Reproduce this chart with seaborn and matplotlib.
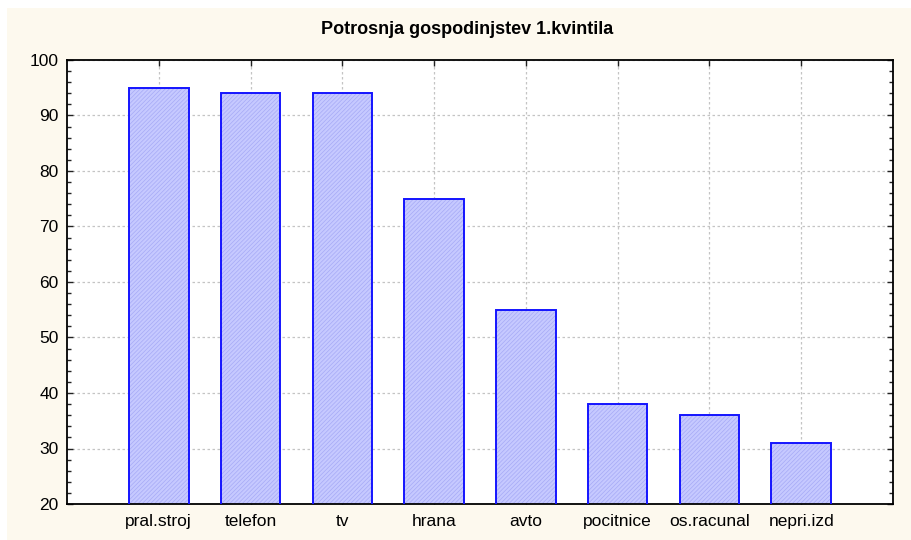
import matplotlib
matplotlib.use("Agg")
import matplotlib.pyplot as plt
import matplotlib.patches as mpatches
from matplotlib.ticker import MultipleLocator
import seaborn as sns
import pandas as pd

categories = ["pral.stroj", "telefon", "tv", "hrana", "avto", "pocitnice", "os.racunal", "nepri.izd"]
values = [95, 94, 94, 75, 55, 38, 36, 31]
title = "Potrosnja gospodinjstev 1.kvintila"

sns.set_theme(style="white")
plt.rcParams["font.family"] = ["Liberation Sans", "DejaVu Sans"]
plt.rcParams["hatch.linewidth"] = 0.5
plt.rcParams["text.color"] = "black"
plt.rcParams["xtick.color"] = "black"
plt.rcParams["ytick.color"] = "black"

df = pd.DataFrame({"cat": categories, "val": values})

fig = plt.figure(figsize=(9.11, 5.40), dpi=100, facecolor="white")
fig.patches.append(mpatches.Rectangle((7 / 911, 0), 1, 532 / 540, transform=fig.transFigure,
                                      facecolor="#fdf9ee", edgecolor="none", zorder=-10))
ax = fig.add_axes([67 / 911, 36 / 540, (893 - 67) / 911, (504 - 60) / 540])
ax.set_facecolor("white")

# hatched fill (hatch takes the edge colour, so use a light edge here)
sns.barplot(data=df, x="cat", y="val", ax=ax, color="#c6c9ff", width=0.65,
            edgecolor="#a6aaf6", linewidth=0, saturation=1, zorder=2)
for p in ax.patches:
    p.set_hatch("////////")
    p.set_facecolor("#c6c9ff")
    p.set_edgecolor("#a6aaf6")
# blue outlines
sns.barplot(data=df, x="cat", y="val", ax=ax, color="#1414ff", width=0.65,
            fill=False, linewidth=1.4, saturation=1, zorder=3)

ax.set_xlim(-1, 8)
ax.set_ylim(20, 100)
ax.yaxis.set_major_locator(MultipleLocator(10))
ax.yaxis.set_minor_locator(MultipleLocator(2))
ax.set_xlabel("")
ax.set_ylabel("")
ax.set_title(title, fontsize=13, fontweight="bold", pad=19, color="black", x=0.484)

ax.grid(True, which="major", axis="both", color="#c4c4c4", linestyle=(0, (2, 2)), linewidth=0.9, zorder=0)
ax.set_axisbelow(True)

for s in ax.spines.values():
    s.set_visible(True)
    s.set_color("black")
    s.set_linewidth(1.3)

ax.tick_params(axis="both", which="both", direction="in", left=True, right=True, top=True, bottom=True,
               color="#222222")
ax.tick_params(axis="both", which="major", length=4, width=1, labelsize=12.5, pad=6)
ax.tick_params(axis="y", which="minor", length=3, width=1)
ax.tick_params(axis="x", which="major", labelsize=12.5, pad=7)

fig.savefig("out.png", dpi=100, facecolor=fig.get_facecolor())
